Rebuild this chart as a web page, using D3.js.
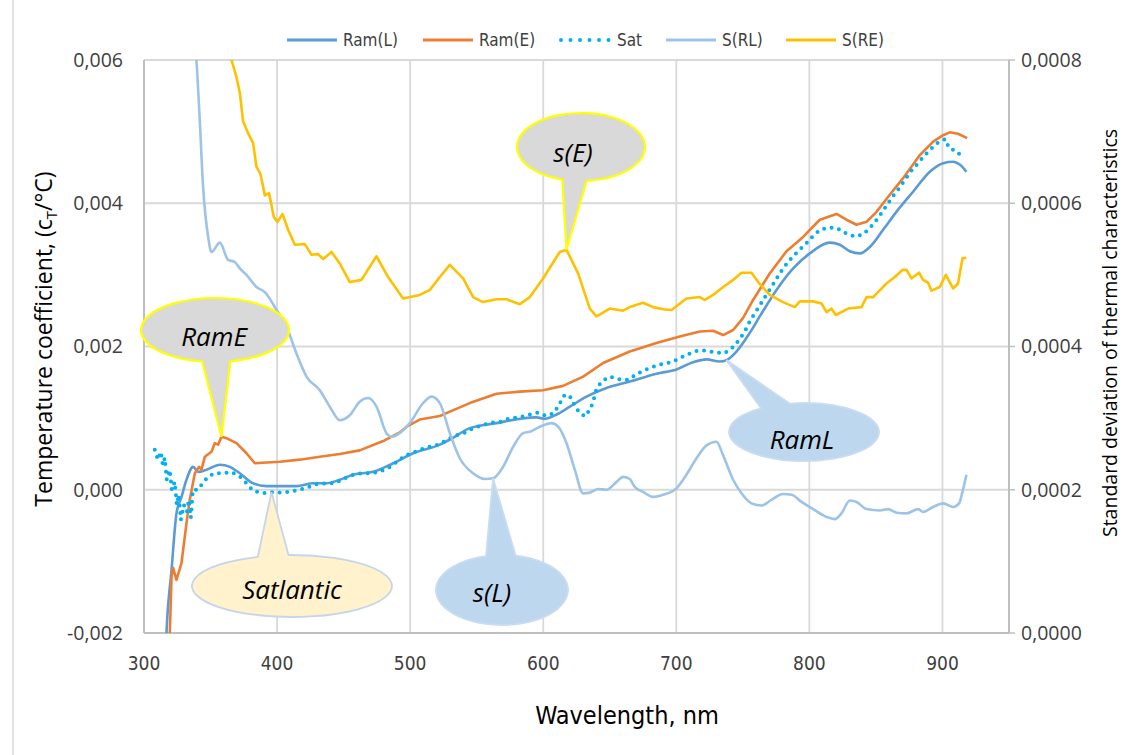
<!DOCTYPE html>
<html>
<head>
<meta charset="utf-8">
<script src="https://cdn.jsdelivr.net/npm/d3@7"></script>
<style>
  html, body { margin: 0; padding: 0; background: #ffffff; }
  svg { display: block; }
</style>
</head>
<body>
<svg id="chart" width="1132" height="755"></svg>
<script>
// ---- Series data (wavelength in nm, coefficients per °C) ----
const ramLNm = [316.4, 316.9, 320.7, 324.4, 328.2, 331.9, 336.9, 340.7, 347, 357, 364.5, 372, 382, 392.1, 402, 414.6, 427.1, 437.1, 447.1, 457.1, 472.2, 487.2, 502.2, 522.3, 529.8, 544.8, 564.9, 582.4, 594.9, 601.2, 610, 620, 632.5, 647.5, 665, 685.1, 700.1, 712.6, 722.7, 732.7, 737.7, 745.2, 755.2, 762.7, 775.3, 787.8, 800.3, 815.3, 822.8, 830.4, 837.9, 845.4, 855.4, 865.4, 877.9, 890.5, 900.5, 908, 913, 918];
const ramL = [-2.23e-3, -2.00e-3, -1.12e-3, -0.33e-3, -0.10e-3, 0.14e-3, 0.32e-3, 0.25e-3, 0.28e-3, 0.35e-3, 0.32e-3, 0.23e-3, 0.09e-3, 0.05e-3, 0.05e-3, 0.05e-3, 0.09e-3, 0.09e-3, 0.14e-3, 0.21e-3, 0.25e-3, 0.37e-3, 0.51e-3, 0.63e-3, 0.70e-3, 0.86e-3, 0.93e-3, 0.99e-3, 1.01e-3, 0.99e-3, 1.05e-3, 1.16e-3, 1.30e-3, 1.42e-3, 1.51e-3, 1.62e-3, 1.68e-3, 1.78e-3, 1.82e-3, 1.79e-3, 1.81e-3, 1.93e-3, 2.19e-3, 2.42e-3, 2.79e-3, 3.09e-3, 3.30e-3, 3.45e-3, 3.42e-3, 3.33e-3, 3.30e-3, 3.39e-3, 3.63e-3, 3.88e-3, 4.16e-3, 4.44e-3, 4.56e-3, 4.58e-3, 4.54e-3, 4.44e-3];

const ramENm = [319, 319.4, 320.7, 321.9, 324.4, 328.2, 331.9, 334.4, 338.2, 341.4, 343.2, 345.7, 350.7, 353.2, 355.7, 358.2, 362, 369.5, 377, 383.3, 392.1, 402, 417.1, 432.1, 447.1, 462.1, 479.7, 492.2, 497.3, 507.2, 522.3, 529.8, 544.8, 564.9, 582.4, 599.9, 614.9, 630, 645, 665, 685.1, 702.6, 717.6, 727.6, 735.2, 742.7, 750.2, 757.7, 770.2, 782.8, 795.3, 807.8, 820.4, 827.9, 835.4, 842.9, 850.4, 857.9, 870.4, 882.9, 893, 900.5, 905.5, 911.7, 918.5];
const ramE = [-2.23e-3, -2.00e-3, -1.21e-3, -1.09e-3, -1.26e-3, -1.02e-3, -0.47e-3, -0.14e-3, 0.23e-3, 0.32e-3, 0.28e-3, 0.46e-3, 0.53e-3, 0.65e-3, 0.63e-3, 0.74e-3, 0.72e-3, 0.65e-3, 0.51e-3, 0.37e-3, 0.38e-3, 0.39e-3, 0.42e-3, 0.46e-3, 0.50e-3, 0.55e-3, 0.68e-3, 0.80e-3, 0.88e-3, 0.98e-3, 1.03e-3, 1.09e-3, 1.21e-3, 1.34e-3, 1.37e-3, 1.39e-3, 1.45e-3, 1.58e-3, 1.77e-3, 1.93e-3, 2.05e-3, 2.14e-3, 2.21e-3, 2.22e-3, 2.16e-3, 2.23e-3, 2.40e-3, 2.65e-3, 3.02e-3, 3.33e-3, 3.53e-3, 3.77e-3, 3.85e-3, 3.77e-3, 3.70e-3, 3.74e-3, 3.88e-3, 4.06e-3, 4.35e-3, 4.67e-3, 4.86e-3, 4.95e-3, 4.99e-3, 4.97e-3, 4.91e-3];

const satNm = [308.1, 310.4, 312.6, 314.1, 315.6, 317.1, 319.4, 320.9, 323.1, 324.6, 326.1, 327.7, 329.9, 332.2, 333.7, 335.2, 336.7, 340.7, 343.2, 348.2, 353.2, 359.4, 365.7, 372, 377, 382, 389, 395.8, 403.3, 410.1, 417.1, 423.3, 429.6, 437.1, 443.4, 449.6, 457.1, 463.4, 471, 477.2, 483.4, 489.7, 496, 502.2, 508.5, 514.8, 521, 532.3, 541.1, 547.3, 554.8, 561.1, 568.6, 574.9, 582.4, 588.6, 595.4, 601.9, 607.9, 611.9, 615.4, 619.4, 623, 627, 631.5, 635.7, 638, 640, 643.8, 650, 657, 663.8, 670.1, 676.3, 683.1, 689.6, 696.4, 702.6, 709.4, 715.9, 722.7, 729.7, 736.4, 742.2, 747.2, 751.5, 754.7, 757.7, 762.2, 766, 769.7, 774, 777.8, 782.3, 787, 792, 797.3, 802.3, 807.8, 814.1, 820.8, 827.4, 834.1, 840.4, 845.9, 850.4, 854.6, 858.7, 862.9, 867.4, 871.7, 876, 880.5, 885.4, 890.5, 896, 902, 905, 910.5, 915.5];
const sat = [0.557e-3, 0.417e-3, 0.529e-3, 0.348e-3, 0.445e-3, 0.138e-3, 0.278e-3, -0.001e-3, 0.110e-3, -0.211e-3, -0.071e-3, -0.420e-3, -0.211e-3, -0.308e-3, -0.141e-3, -0.392e-3, 0.000, 0.000, 0.068e-3, 0.184e-3, 0.232e-3, 0.232e-3, 0.246e-3, 0.184e-3, 0.092e-3, -0.015e-3, -0.047e-3, -0.033e-3, -0.039e-3, -0.025e-3, 0.000, 0.036e-3, 0.078e-3, 0.092e-3, 0.092e-3, 0.148e-3, 0.208e-3, 0.232e-3, 0.232e-3, 0.254e-3, 0.301e-3, 0.385e-3, 0.473e-3, 0.519e-3, 0.567e-3, 0.603e-3, 0.627e-3, 0.743e-3, 0.798e-3, 0.860e-3, 0.906e-3, 0.938e-3, 0.952e-3, 0.999e-3, 1.013e-3, 1.045e-3, 1.077e-3, 1.031e-3, 1.069e-3, 1.185e-3, 1.311e-3, 1.325e-3, 1.199e-3, 1.077e-3, 1.022e-3, 1.139e-3, 1.265e-3, 1.404e-3, 1.510e-3, 1.580e-3, 1.544e-3, 1.534e-3, 1.613e-3, 1.673e-3, 1.720e-3, 1.757e-3, 1.781e-3, 1.837e-3, 1.897e-3, 1.943e-3, 1.943e-3, 1.915e-3, 1.907e-3, 1.985e-3, 2.092e-3, 2.208e-3, 2.334e-3, 2.427e-3, 2.557e-3, 2.674e-3, 2.780e-3, 2.906e-3, 3.023e-3, 3.139e-3, 3.246e-3, 3.339e-3, 3.432e-3, 3.534e-3, 3.627e-3, 3.660e-3, 3.651e-3, 3.581e-3, 3.534e-3, 3.567e-3, 3.665e-3, 3.767e-3, 3.874e-3, 3.990e-3, 4.102e-3, 4.209e-3, 4.325e-3, 4.441e-3, 4.535e-3, 4.642e-3, 4.744e-3, 4.838e-3, 4.898e-3, 4.768e-3, 4.730e-3, 4.628e-3];

// Standard deviations (secondary axis)
const sRlNm = [338.2, 339.4, 341.9, 344.4, 348.2, 350.7, 357, 363.2, 368.2, 372, 377, 384.5, 390.8, 399.6, 407.1, 414.6, 422.1, 432.1, 439.6, 447.1, 454.6, 462.1, 468.4, 474.7, 482.2, 486, 499.7, 509.7, 516, 522.3, 529.8, 537.3, 547.3, 556.1, 562.3, 569.8, 577.4, 584.9, 589.9, 597.4, 606.2, 611.2, 617.5, 623.7, 630, 635, 641.2, 647.5, 655.1, 660, 665, 668.8, 675, 682.6, 690.1, 700.1, 707.6, 715.2, 722.7, 730.2, 735.2, 742.7, 749, 756.5, 764, 771.5, 780.2, 786.6, 794.1, 802.8, 812.9, 819.1, 824.1, 830.4, 835.4, 842.9, 852.9, 859.1, 865.4, 872.9, 881.7, 885.4, 893, 900.5, 908, 912.5, 915, 918];
const sRl = [8.28e-4, 8.0e-4, 7.16e-4, 6.23e-4, 5.53e-4, 5.32e-4, 5.45e-4, 5.21e-4, 5.18e-4, 5.09e-4, 5.00e-4, 4.83e-4, 4.76e-4, 4.51e-4, 4.28e-4, 3.90e-4, 3.58e-4, 3.39e-4, 3.16e-4, 2.97e-4, 3.04e-4, 3.23e-4, 3.28e-4, 3.16e-4, 2.79e-4, 2.74e-4, 2.93e-4, 3.21e-4, 3.30e-4, 3.21e-4, 2.79e-4, 2.44e-4, 2.23e-4, 2.15e-4, 2.16e-4, 2.32e-4, 2.60e-4, 2.79e-4, 2.81e-4, 2.88e-4, 2.93e-4, 2.88e-4, 2.65e-4, 2.28e-4, 1.95e-4, 1.96e-4, 2.01e-4, 2.00e-4, 2.11e-4, 2.18e-4, 2.15e-4, 2.04e-4, 1.97e-4, 1.90e-4, 1.93e-4, 2.02e-4, 2.21e-4, 2.44e-4, 2.62e-4, 2.67e-4, 2.48e-4, 2.14e-4, 1.95e-4, 1.81e-4, 1.78e-4, 1.86e-4, 1.94e-4, 1.93e-4, 1.83e-4, 1.73e-4, 1.62e-4, 1.59e-4, 1.67e-4, 1.85e-4, 1.83e-4, 1.73e-4, 1.71e-4, 1.73e-4, 1.68e-4, 1.67e-4, 1.73e-4, 1.69e-4, 1.76e-4, 1.81e-4, 1.76e-4, 1.81e-4, 1.97e-4, 2.21e-4];

const sReNm = [364, 365.7, 369.5, 372, 374.5, 378.2, 382, 384.5, 387.5, 390.8, 394, 397.5, 400.3, 404.1, 408.3, 413.3, 420.8, 425.9, 430.8, 434.6, 440.9, 447.1, 454.6, 463.4, 474.7, 483.4, 494.7, 507.2, 514.8, 522.3, 529.8, 539.8, 547.3, 554.8, 564.9, 572.4, 582.4, 589.9, 599.9, 612.4, 617.5, 626.2, 635, 640, 650, 660, 665, 675, 682.6, 690.1, 696.4, 707.6, 717.6, 721.4, 727.6, 735.2, 742.7, 749, 756.5, 761.5, 770.2, 780.2, 789, 792.8, 802.8, 809.1, 812.9, 816.6, 819.8, 829.1, 839.2, 842.9, 847.9, 857.9, 864.2, 870, 873, 876.7, 882.4, 885.4, 889.2, 891.7, 898, 902.5, 908, 911.7, 915, 918];
const sRe = [8.4e-4, 8.0e-4, 7.76e-4, 7.54e-4, 7.14e-4, 6.98e-4, 6.84e-4, 6.51e-4, 6.41e-4, 6.11e-4, 6.14e-4, 5.81e-4, 5.74e-4, 5.85e-4, 5.63e-4, 5.42e-4, 5.43e-4, 5.28e-4, 5.29e-4, 5.22e-4, 5.32e-4, 5.16e-4, 4.90e-4, 4.93e-4, 5.26e-4, 4.97e-4, 4.67e-4, 4.72e-4, 4.79e-4, 4.97e-4, 5.14e-4, 4.95e-4, 4.69e-4, 4.62e-4, 4.66e-4, 4.66e-4, 4.59e-4, 4.69e-4, 4.95e-4, 5.32e-4, 5.35e-4, 5.02e-4, 4.53e-4, 4.42e-4, 4.53e-4, 4.50e-4, 4.55e-4, 4.61e-4, 4.55e-4, 4.52e-4, 4.51e-4, 4.67e-4, 4.69e-4, 4.65e-4, 4.72e-4, 4.83e-4, 4.93e-4, 5.03e-4, 5.03e-4, 4.90e-4, 4.72e-4, 4.62e-4, 4.55e-4, 4.63e-4, 4.63e-4, 4.60e-4, 4.48e-4, 4.53e-4, 4.44e-4, 4.53e-4, 4.55e-4, 4.69e-4, 4.69e-4, 4.88e-4, 4.97e-4, 5.07e-4, 5.07e-4, 4.95e-4, 5.03e-4, 4.93e-4, 4.89e-4, 4.78e-4, 4.83e-4, 5.00e-4, 4.81e-4, 4.88e-4, 5.23e-4, 5.24e-4];

// Axis ticks
const xTicks = [300, 400, 500, 600, 700, 800, 900];
const yLeftTicks = [-0.002, 0.000, 0.002, 0.004, 0.006];
const yRightTicks = [0.0000, 0.0002, 0.0004, 0.0006, 0.0008];

// Legend entries
const legendLabels = ["Ram(L)", "Ram(E)", "Sat", "S(RL)", "S(RE)"];

// Callout annotation labels
const calloutLabels = ["s(E)", "RamE", "Satlantic", "s(L)", "RamL"];

// ---- Layout ----
const svg = d3.select("#chart");
const plot = { left: 144, right: 1009, top: 60, bottom: 633 };

const x = d3.scaleLinear().domain([300, 950]).range([plot.left, plot.right]);
const yL = d3.scaleLinear().domain([-0.002, 0.006]).range([plot.bottom, plot.top]);
const yR = d3.scaleLinear().domain([0, 0.0008]).range([plot.bottom, plot.top]);

const colors = {
  ramL: "#5b9bd5",
  ramE: "#ed7d31",
  sat: "#00b0f0",
  sRl: "#9dc3e6",
  sRe: "#ffc000"
};

const narrowFont = "'Liberation Sans Narrow', 'DejaVu Sans Condensed', sans-serif";

// faint outer frame edge on the left
svg.append("line")
  .attr("x1", 13).attr("x2", 13).attr("y1", 0).attr("y2", 755)
  .attr("stroke", "#d9d9d9").attr("stroke-width", 1.5);

// ---- Gridlines ----
const grid = svg.append("g");
grid.selectAll("line.h").data(yLeftTicks).join("line")
  .attr("x1", plot.left).attr("x2", plot.right)
  .attr("y1", d => yL(d)).attr("y2", d => yL(d))
  .attr("stroke", "#d9d9d9").attr("stroke-width", 1.8);
grid.selectAll("line.v").data(xTicks).join("line")
  .attr("x1", d => x(d)).attr("x2", d => x(d))
  .attr("y1", plot.top).attr("y2", plot.bottom)
  .attr("stroke", "#d9d9d9").attr("stroke-width", 1.8);

// axis lines
svg.append("line").attr("x1", plot.left).attr("x2", plot.left)
  .attr("y1", plot.top).attr("y2", plot.bottom)
  .attr("stroke", "#bfbfbf").attr("stroke-width", 2);
svg.append("line").attr("x1", plot.right).attr("x2", plot.right)
  .attr("y1", plot.top).attr("y2", plot.bottom)
  .attr("stroke", "#bfbfbf").attr("stroke-width", 2);
svg.append("line").attr("x1", plot.left).attr("x2", plot.right)
  .attr("y1", plot.bottom).attr("y2", plot.bottom)
  .attr("stroke", "#bfbfbf").attr("stroke-width", 2);
// right axis outward ticks
svg.selectAll("line.rt").data(yRightTicks).join("line")
  .attr("x1", plot.right).attr("x2", plot.right + 6)
  .attr("y1", d => yR(d)).attr("y2", d => yR(d))
  .attr("stroke", "#bfbfbf").attr("stroke-width", 1.5);

// ---- Tick labels ----
const fmtL = v => (v < 0 ? "-" : "") + Math.abs(v).toFixed(3).replace(".", ",");
const fmtR = v => Math.abs(v).toFixed(4).replace(".", ",");

svg.append("g").selectAll("text").data(yLeftTicks).join("text")
  .attr("x", 123).attr("y", d => yL(d)).attr("dy", "0.35em")
  .attr("text-anchor", "end")
  .attr("font-family", "'Open Sans', sans-serif").attr("font-size", 19.5)
  .attr("fill", "#404040")
  .text(fmtL);

svg.append("g").selectAll("text").data(yRightTicks).join("text")
  .attr("x", 1021).attr("y", d => yR(d)).attr("dy", "0.35em")
  .attr("text-anchor", "start")
  .attr("font-family", "'Open Sans', sans-serif").attr("font-size", 19.5)
  .attr("fill", "#404040")
  .text(fmtR);

svg.append("g").selectAll("text").data(xTicks).join("text")
  .attr("x", d => x(d)).attr("y", 670)
  .attr("text-anchor", "middle")
  .attr("font-family", narrowFont)
  .attr("font-size", 19)
  .attr("fill", "#404040")
  .text(d => d);

// ---- Axis titles ----
const leftTitle = svg.append("text")
  .attr("transform", "translate(52,339) rotate(-90)")
  .attr("text-anchor", "middle")
  .attr("font-family", "'Open Sans', sans-serif").attr("font-size", 23)
  .attr("fill", "#000");
leftTitle.append("tspan").text("Temperature coefficient, (c");
leftTitle.append("tspan").attr("font-size", 15).attr("dy", 5).text("T");
leftTitle.append("tspan").attr("dy", -5).text("/°C)");

svg.append("text")
  .attr("transform", "translate(1117,333) rotate(-90)")
  .attr("text-anchor", "middle")
  .attr("font-family", "'Open Sans', sans-serif").attr("font-size", 19.5)
  .attr("fill", "#000")
  .text("Standard deviation of thermal characteristics");

svg.append("text")
  .attr("x", 627).attr("y", 724)
  .attr("text-anchor", "middle")
  .attr("font-family", narrowFont)
  .attr("font-size", 25)
  .attr("fill", "#000")
  .text("Wavelength, nm");

// ---- Series ----
svg.append("clipPath").attr("id", "plotClip")
  .append("rect")
  .attr("x", plot.left).attr("y", plot.top)
  .attr("width", plot.right - plot.left).attr("height", plot.bottom - plot.top);

const series = svg.append("g").attr("clip-path", "url(#plotClip)");

function pairs(xs, ys) {
  const n = Math.min(xs.length, ys.length);
  return d3.range(n).map(i => [xs[i], ys[i]]);
}

const lineL = d3.line().x(d => x(d[0])).y(d => yL(d[1])).curve(d3.curveMonotoneX);
const lineR = d3.line().x(d => x(d[0])).y(d => yR(d[1])).curve(d3.curveMonotoneX);
const lineRJag = d3.line().x(d => x(d[0])).y(d => yR(d[1])).curve(d3.curveLinear);
const lineLJag = d3.line().x(d => x(d[0])).y(d => yL(d[1])).curve(d3.curveLinear);

series.append("path").datum(pairs(ramLNm, ramL))
  .attr("d", lineL).attr("fill", "none")
  .attr("stroke", colors.ramL).attr("stroke-width", 2.6).attr("stroke-linejoin", "round");

series.append("path").datum(pairs(ramENm, ramE))
  .attr("d", lineLJag).attr("fill", "none")
  .attr("stroke", colors.ramE).attr("stroke-width", 2.6).attr("stroke-linejoin", "round");

series.append("path").datum(pairs(satNm, sat))
  .attr("d", lineLJag).attr("fill", "none")
  .attr("stroke", colors.sat).attr("stroke-width", 4)
  .attr("stroke-linecap", "round").attr("stroke-dasharray", "0 7.6");

series.append("path").datum(pairs(sRlNm, sRl))
  .attr("d", lineR).attr("fill", "none")
  .attr("stroke", colors.sRl).attr("stroke-width", 2.6).attr("stroke-linejoin", "round");

series.append("path").datum(pairs(sReNm, sRe))
  .attr("d", lineRJag).attr("fill", "none")
  .attr("stroke", colors.sRe).attr("stroke-width", 2.6).attr("stroke-linejoin", "round");

// ---- Legend ----
const legend = svg.append("g").attr("font-family", narrowFont)
  .attr("font-size", 17).attr("fill", "#404040");
const legendItems = [
  { label: legendLabels[0], color: colors.ramL, x0: 287, dotted: false },
  { label: legendLabels[1], color: colors.ramE, x0: 423, dotted: false },
  { label: legendLabels[2], color: colors.sat, x0: 561, dotted: true },
  { label: legendLabels[3], color: colors.sRl, x0: 666, dotted: false },
  { label: legendLabels[4], color: colors.sRe, x0: 786, dotted: false }
];
legendItems.forEach(it => {
  const ln = legend.append("line")
    .attr("x1", it.x0).attr("x2", it.x0 + 50)
    .attr("y1", 40).attr("y2", 40)
    .attr("stroke", it.color);
  if (it.dotted) {
    ln.attr("stroke-width", 4).attr("stroke-linecap", "round").attr("stroke-dasharray", "0 9.5");
  } else {
    ln.attr("stroke-width", 3);
  }
  legend.append("text").attr("x", it.x0 + 56).attr("y", 40).attr("dy", "0.35em").text(it.label);
});

// ---- Callouts ----
function calloutPath(cx, cy, rx, ry, aStart, aEnd, tx, ty) {
  const r = Math.PI / 180;
  const p1 = [cx + rx * Math.cos(aStart * r), cy + ry * Math.sin(aStart * r)];
  const p2 = [cx + rx * Math.cos(aEnd * r), cy + ry * Math.sin(aEnd * r)];
  return `M${p1[0]},${p1[1]} A${rx},${ry} 0 1 1 ${p2[0]},${p2[1]} L${tx},${ty} Z`;
}

const callouts = [
  { label: calloutLabels[0], cx: 581, cy: 147, rx: 64, ry: 34, a0: 107, a1: 85, tip: [sReNm[40], sRe[40]], axis: "R",
    fill: "#d9d9d9", stroke: "#ffff00", sw: 2.2, tx: 573, ty: 153 },
  { label: calloutLabels[1], cx: 215, cy: 330, rx: 74, ry: 32, a0: 100, a1: 78, tip: [ramENm[15], ramE[15]], axis: "L",
    fill: "#d9d9d9", stroke: "#ffff00", sw: 2.2, tx: 214, ty: 337 },
  { label: calloutLabels[2], cx: 292, cy: 586, rx: 100, ry: 31, a0: 268, a1: 250, tip: [satNm[27], sat[27]], axis: "L",
    fill: "#fff2cc", stroke: "#c5d5ea", sw: 1.8, tx: 292, ty: 590 },
  { label: calloutLabels[3], cx: 502, cy: 590, rx: 66, ry: 35, a0: 282, a1: 256, tip: [sRlNm[34], sRl[34]], axis: "R",
    fill: "#bdd7ee", stroke: "#c9dcf0", sw: 1.8, tx: 492, ty: 593 },
  { label: calloutLabels[4], cx: 804, cy: 432, rx: 75, ry: 29, a0: 259, a1: 235, tip: [ramLNm[40], ramL[40]], axis: "L",
    fill: "#bdd7ee", stroke: "#c9dcf0", sw: 1.8, tx: 802, ty: 440 }
];

const cg = svg.append("g");
callouts.forEach(c => {
  const tx = x(c.tip[0]);
  const ty = c.axis === "L" ? yL(c.tip[1]) : yR(c.tip[1]);
  cg.append("path")
    .attr("d", calloutPath(c.cx, c.cy, c.rx, c.ry, c.a0, c.a1, tx, ty))
    .attr("fill", c.fill).attr("stroke", c.stroke).attr("stroke-width", c.sw)
    .attr("stroke-linejoin", "miter");
  cg.append("text")
    .attr("x", c.tx).attr("y", c.ty).attr("dy", "0.35em")
    .attr("text-anchor", "middle")
    .attr("font-family", "'Open Sans', sans-serif").attr("font-style", "italic")
    .attr("font-size", 26).attr("fill", "#000")
    .text(c.label);
});
</script>
</body>
</html>
